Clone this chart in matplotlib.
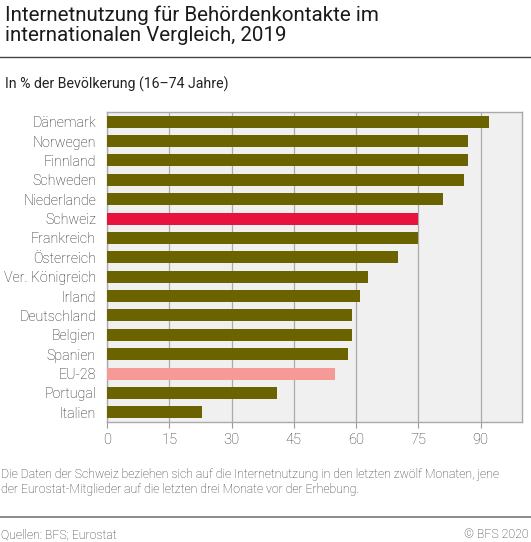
import matplotlib
matplotlib.use("Agg")
import matplotlib.pyplot as plt
from matplotlib.lines import Line2D

categories = ["Dänemark", "Norwegen", "Finnland", "Schweden", "Niederlande", "Schweiz",
              "Frankreich", "Österreich", "Ver. Königreich", "Irland", "Deutschland",
              "Belgien", "Spanien", "EU-28", "Portugal", "Italien"]
values = [92, 87, 87, 86, 81, 75, 75, 70, 63, 61, 59, 59, 58, 55, 41, 23]
ticks = [0, 15, 30, 45, 60, 75, 90]

OLIVE = "#6b6300"
RED = "#e8123f"
PINK = "#f59a96"
colors = [RED if c == "Schweiz" else PINK if c == "EU-28" else OLIVE for c in categories]

plt.rcParams['font.family'] = ['Roboto', 'DejaVu Sans']

W, H = 531, 542
fig = plt.figure(figsize=(W / 100, H / 100), dpi=100)

ax = fig.add_axes([107 / W, 1 - 422 / H, (522 - 107) / W, (422 - 112) / H])
ax.set_facecolor("#f0f0f0")
y = list(range(len(categories)))
ax.barh(y, values, height=0.62, color=colors, zorder=3)
ax.set_ylim(len(categories) - 0.5, -0.5)
ax.set_xlim(0, 100)
ax.set_yticks(y)
ax.set_yticklabels(categories, fontsize=10.3, color="#222222", fontweight='light')
ax.set_xticks(ticks)
ax.set_xticklabels([str(t) for t in ticks], fontsize=10.5, color="#333333", fontweight='light')
ax.tick_params(axis='y', length=0, pad=8)
ax.tick_params(axis='x', length=4, color="#999999", pad=4)
ax.grid(axis='x', color="#aaaaaa", linewidth=0.9, zorder=1)
for s in ax.spines.values():
    s.set_color("#aaaaaa")
    s.set_linewidth(1.0)

fig.text(5 / W, 1 - 5 / H, "Internetnutzung für Behördenkontakte im\ninternationalen Vergleich, 2019",
         fontsize=14.8, color="#1a1a1a", va='top', ha='left', linespacing=1.08)
fig.add_artist(Line2D([0, 1], [1 - 57 / H, 1 - 57 / H], color="#444444", linewidth=1.0))
fig.text(5 / W, 1 - 84 / H, "In % der Bevölkerung (16–74 Jahre)", fontsize=10.2,
         color="#222222", va='center', ha='left')

fig.text(1 / W, 1 - 482 / H,
         "Die Daten der Schweiz beziehen sich auf die Internetnutzung in den letzten zwölf Monaten, jene\n"
         "der Eurostat-Mitglieder auf die letzten drei Monate vor der Erhebung.",
         fontsize=8.8, color="#333333", va='center', ha='left', linespacing=1.15, fontweight='light')
fig.add_artist(Line2D([0, 1], [1 - 517 / H, 1 - 517 / H], color="#777777", linewidth=1.2))
fig.text(1 / W, 1 - 535 / H, "Quellen: BFS; Eurostat", fontsize=8.8, color="#333333",
         va='center', ha='left', fontweight='light')
fig.text(1 - 2 / W, 1 - 535 / H, "© BFS 2020", fontsize=8.8, color="#333333",
         va='center', ha='right', fontweight='light')

fig.savefig("out.png", dpi=100)
